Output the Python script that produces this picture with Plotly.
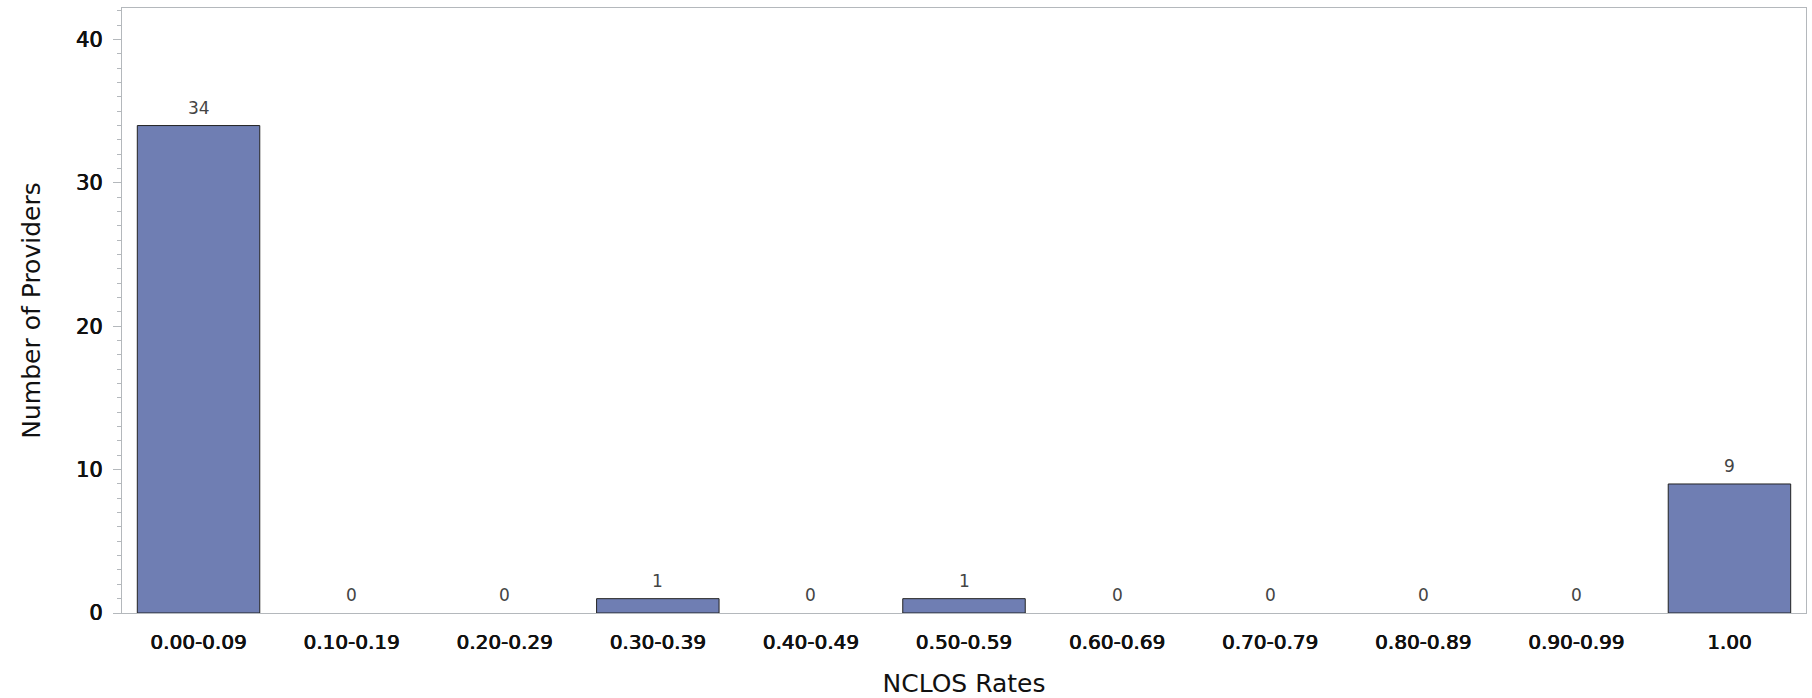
import plotly.graph_objects as go

categories = ["0.00-0.09", "0.10-0.19", "0.20-0.29", "0.30-0.39", "0.40-0.49",
              "0.50-0.59", "0.60-0.69", "0.70-0.79", "0.80-0.89", "0.90-0.99", "1.00"]
providers = [34, 0, 0, 1, 0, 1, 0, 0, 0, 0, 9]
y_ticks = [0, 10, 20, 30, 40]

FONT = "DejaVu Sans"
AXIS_GREY = "#b4b8bc"
HEAVY = "0.45px 0 0 #111111, -0.3px 0 0 #111111"

fig = go.Figure()
fig.add_trace(go.Bar(
    x=categories,
    y=providers,
    width=0.8,
    marker=dict(color="#6f7eb3",
                line=dict(color="#222222", width=[1 if v > 0 else 0 for v in providers])),
    hoverinfo="x+y",
))

# value labels above each bar (category axis positions are the category indices)
for i, v in enumerate(providers):
    fig.add_annotation(
        x=i, y=v, text=str(v), showarrow=False,
        xanchor="center", yanchor="bottom", yshift=6,
        font=dict(family=FONT, size=17, color="#444444"),
    )

fig.update_layout(
    width=1812, height=698,
    margin=dict(l=122, r=6, t=8, b=85, autoexpand=False),
    paper_bgcolor="white", plot_bgcolor="white",
    showlegend=False,
)

fig.update_xaxes(
    type="category",
    range=[-0.5, len(categories) - 0.5],
    showline=True, linecolor=AXIS_GREY, linewidth=1, mirror=True,
    showgrid=False, ticks="",
    tickfont=dict(family=FONT, size=20, color="#111111", shadow=HEAVY),
    ticklabelstandoff=11,
    title=dict(text="NCLOS Rates", font=dict(family=FONT, size=25, color="#111111"), standoff=22),
    automargin=False,
)

fig.update_yaxes(
    range=[0, 42.2],
    tickvals=y_ticks,
    showline=True, linecolor=AXIS_GREY, linewidth=1, mirror=True,
    showgrid=False, zeroline=False,
    ticks="outside", ticklen=8, tickcolor=AXIS_GREY, tickwidth=1,
    minor=dict(dtick=1, ticks="outside", ticklen=4, tickcolor=AXIS_GREY, tickwidth=1, showgrid=False),
    tickfont=dict(family=FONT, size=21, color="#111111", shadow=HEAVY),
    ticklabelstandoff=6,
    title=dict(text="Number of Providers", font=dict(family=FONT, size=25, color="#111111"), standoff=28),
    automargin=False,
)

fig.write_html("out.html", config={"displayModeBar": False},
               post_script="document.body.style.margin='0';document.body.style.overflow='hidden';")
